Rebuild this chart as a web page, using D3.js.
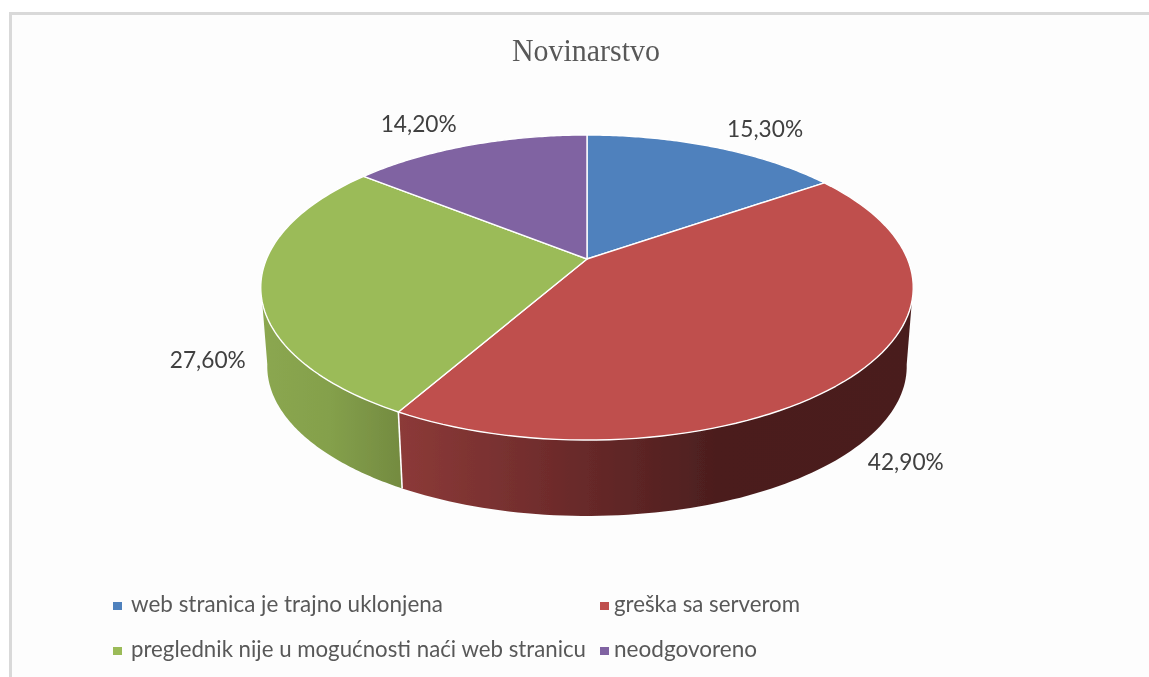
<!DOCTYPE html>
<html><head><meta charset="utf-8">
<script src="https://cdnjs.cloudflare.com/ajax/libs/d3/7.8.5/d3.min.js"></script>
<style>html,body{margin:0;padding:0;background:#fff;overflow:hidden}svg{display:block}</style>
</head><body><script>
const title = "Novinarstvo";
const categories = ["web stranica je trajno uklonjena","greška sa serverom","preglednik nije u mogućnosti naći web stranicu","neodgovoreno"];
const values = [15.3,42.9,27.6,14.2];
const valueLabels = ["15,30%","42,90%","27,60%","14,20%"];
const colors = ["#4f81bd","#bf504d","#9bbb59","#8064a2"];

const W=1149,H=677;
const svg=d3.select("body").append("svg").attr("width",W).attr("height",H);
const defs=svg.append("defs");
defs.append("filter").attr("id","soft").append("feGaussianBlur").attr("stdDeviation",0.4);

// frame
svg.append("rect").attr("x",10.5).attr("y",13.5).attr("width",W).attr("height",H).attr("fill","#fdfdfd").attr("stroke","#d9d9d9").attr("stroke-width",3);

const root=svg.append("g").attr("filter","url(#soft)");

// perspective projection of the pie disc
const apex={x:587,y:259},k=0.187,Sx=320.5,Sy=147.2,depthScale=0.98,depth=79.5;
function topPt(a){const x=Math.sin(a),y=-Math.cos(a),w=1-k*y;return [apex.x+Sx*x/w,apex.y+Sy*y/w];}
function botPt(a){const x=Math.sin(a),y=-Math.cos(a),w=1-k*y;return [apex.x+depthScale*Sx*x/w,apex.y+depth+depthScale*Sy*y/w];}
const deg=Math.PI/180;
const samples=(a0,a1)=>d3.range(0,81).map(i=>a0+(a1-a0)*i/80);
const line=d3.line();
const arcs=d3.pie().sort(null).value(d=>d)(values);

// side walls
const topVis=[106*deg,254*deg],botVis=[100*deg,260*deg];
const wallStops={1:[[400,"#8c3a38"],[550,"#6f2c2c"],[720,"#4b1e1e"],[910,"#4a1e1e"]],
                 2:[[262,"#8ba750"],[330,"#84a04b"],[404,"#738a40"]]};
arcs.forEach((s,i)=>{
  const t0=Math.max(s.startAngle,topVis[0]),t1=Math.min(s.endAngle,topVis[1]);
  const b0=Math.max(s.startAngle,botVis[0]),b1=Math.min(s.endAngle,botVis[1]);
  if(t1<=t0) return;
  const g=defs.append("linearGradient").attr("id","wall"+i).attr("gradientUnits","userSpaceOnUse")
    .attr("x1",wallStops[i][0][0]).attr("x2",wallStops[i][wallStops[i].length-1][0]).attr("y1",0).attr("y2",0);
  const x0=wallStops[i][0][0],x1=wallStops[i][wallStops[i].length-1][0];
  wallStops[i].forEach(st=>g.append("stop").attr("offset",(st[0]-x0)/(x1-x0)).attr("stop-color",st[1]));
  const pts=samples(t0,t1).map(topPt).concat(samples(b1,b0).map(botPt));
  root.append("path").attr("d",line(pts)+"Z").attr("fill",`url(#wall${i})`);
});
// wall separator
arcs.filter(s=>s.endAngle>topVis[0]&&s.endAngle<topVis[1]).forEach(s=>{
  root.append("path").attr("d",line([topPt(s.endAngle),botPt(s.endAngle)])).attr("stroke","#fff").attr("stroke-width",1.6).attr("fill","none");
});

// top faces
arcs.forEach((s,i)=>{
  const pts=[[apex.x,apex.y]].concat(samples(s.startAngle,s.endAngle).map(topPt));
  root.append("path").attr("d",line(pts)+"Z").attr("fill",colors[i]).attr("stroke","#fff").attr("stroke-width",1.4).attr("stroke-linejoin","round");
});

// title
const fontSans="Lato, 'Open Sans', sans-serif";
root.append("text").attr("x",586).attr("y",61).attr("text-anchor","middle")
  .attr("font-family","'Liberation Serif',serif").attr("font-size",31).attr("fill","#595959")
  .attr("textLength",148).attr("lengthAdjust","spacingAndGlyphs").text(title);

// value labels: placed relative to each slice's projected mid-angle
const labelOffset=[[51,-10],[53,20],[-53,80],[-50,-13]];
arcs.forEach((s,i)=>{
  const mid=(s.startAngle+s.endAngle)/2;
  const p=i===1?botPt(mid):topPt(mid);
  const off=labelOffset[i];
  root.append("text").attr("x",p[0]+off[0]).attr("y",p[1]+off[1]).attr("text-anchor","middle")
    .attr("font-family",fontSans).attr("font-size",23).attr("fill","#404040")
    .attr("textLength",76).attr("lengthAdjust","spacingAndGlyphs").text(valueLabels[i]);
});

// legend
const legX=d3.scaleOrdinal().domain([0,1]).range([113,600]);
const legY=d3.scaleOrdinal().domain([0,1]).range([602,647]);
const legW=[312,186,455,143];
categories.forEach((c,i)=>{
  const col=i%2,row=Math.floor(i/2);
  root.append("rect").attr("x",legX(col)).attr("y",legY(row)).attr("width",9).attr("height",8).attr("fill",colors[i]);
  root.append("text").attr("x",legX(col)+(col?14:18)).attr("y",legY(row)+10).attr("font-family",fontSans)
    .attr("font-size",23).attr("fill","#595959")
    .attr("textLength",legW[i]).attr("lengthAdjust","spacingAndGlyphs").text(c);
});
</script></body></html>
